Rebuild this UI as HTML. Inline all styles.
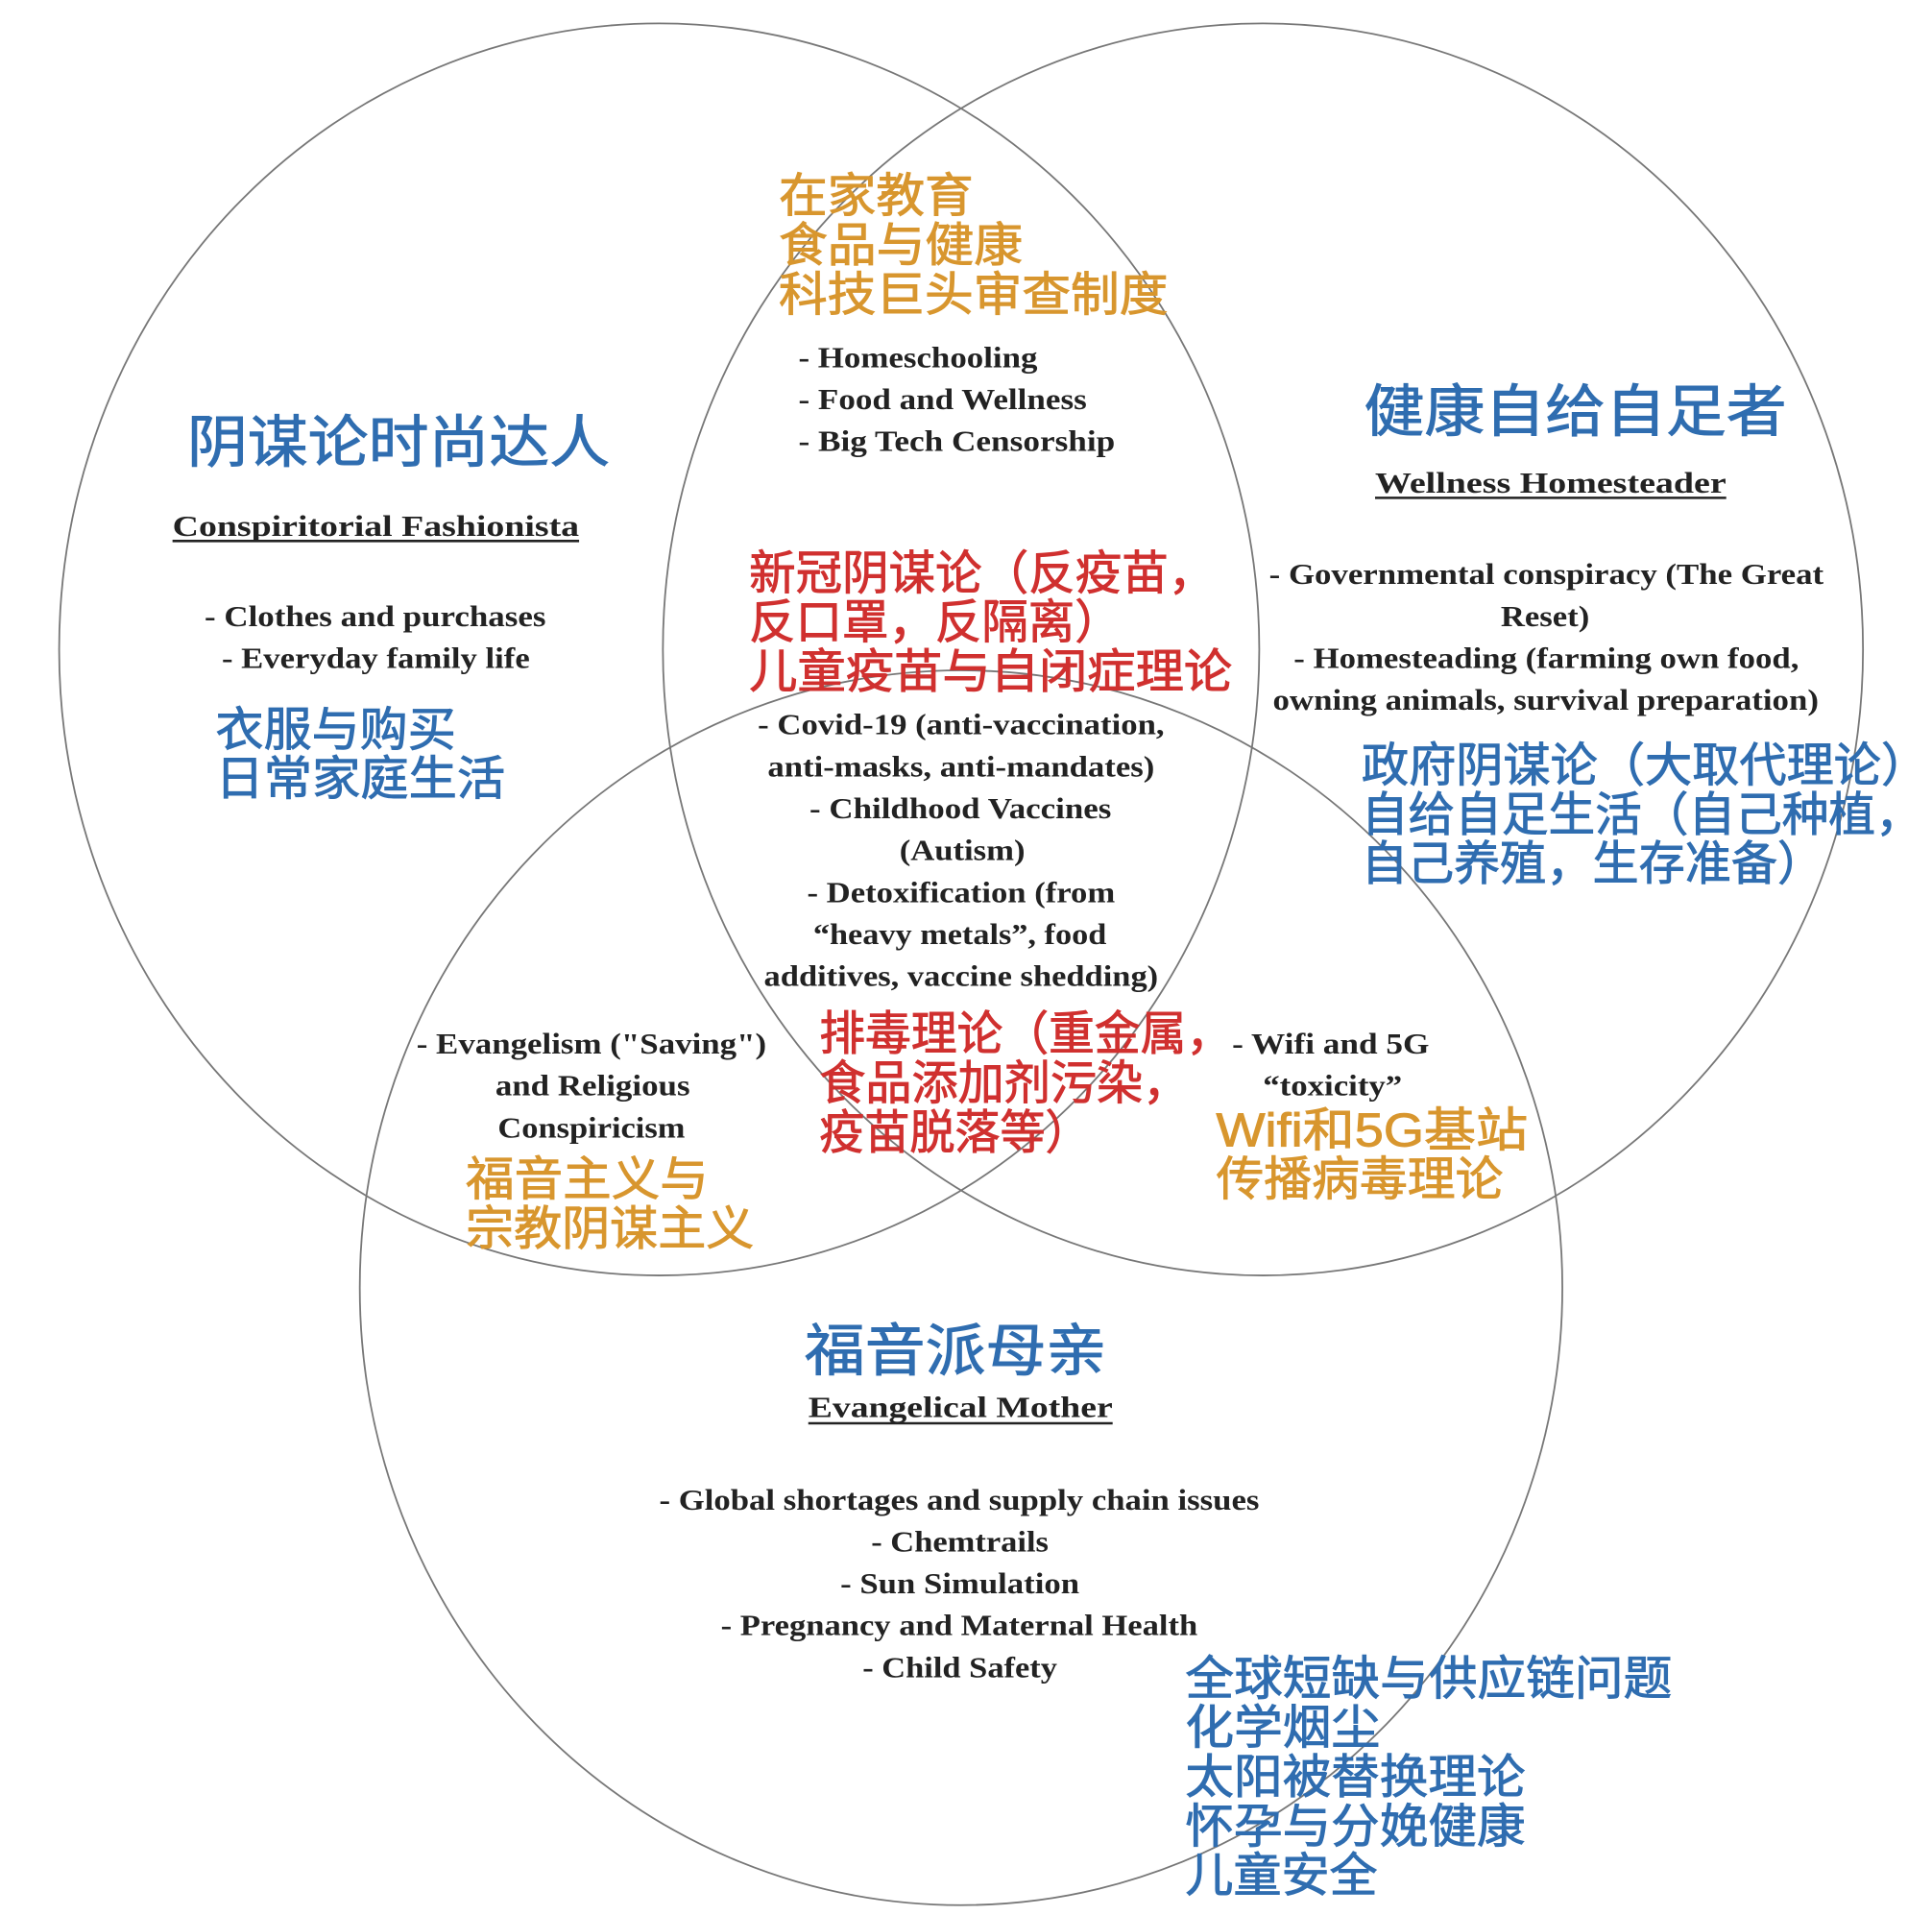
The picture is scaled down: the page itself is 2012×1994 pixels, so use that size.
<!DOCTYPE html>
<html><head><meta charset="utf-8"><style>
html,body{margin:0;padding:0;background:#fff;}
svg{display:block;}
.c{font-family:"Liberation Sans","Noto Sans CJK SC",sans-serif;stroke-width:0.7px;}
.e{font-family:"Liberation Serif",serif;font-weight:bold;font-size:24px;fill:#222;}
.o{fill:#d8962e;stroke:#d8962e;font-size:38px;}
.b{fill:#2f6db0;stroke:#2f6db0;font-size:38px;}
.r{fill:#d0302f;stroke:#d0302f;font-size:38px;}
.t{fill:#2f6db0;stroke:#2f6db0;font-size:46px;}
</style></head><body>
<svg width="2012" height="1994" viewBox="0 0 1568 1554" preserveAspectRatio="none" xmlns="http://www.w3.org/2000/svg">
<g fill="none" stroke="#777" stroke-width="1.4">
<ellipse cx="535" cy="527" rx="487" ry="508"/>
<ellipse cx="1025" cy="527" rx="487" ry="508"/>
<ellipse cx="780" cy="1045" rx="488" ry="501"/>
</g>
<g>
<text class="c o" x="632" y="172" textLength="158" lengthAdjust="spacingAndGlyphs">在家教育</text>
<text class="c o" x="632" y="212" textLength="198" lengthAdjust="spacingAndGlyphs">食品与健康</text>
<text class="c o" x="632" y="252" textLength="316" lengthAdjust="spacingAndGlyphs">科技巨头审查制度</text>
<text class="c t" x="152" y="375" textLength="343" lengthAdjust="spacingAndGlyphs">阴谋论时尚达人</text>
<text class="c b" x="175" y="605" textLength="195" lengthAdjust="spacingAndGlyphs">衣服与购买</text>
<text class="c b" x="175" y="645" textLength="235" lengthAdjust="spacingAndGlyphs">日常家庭生活</text>
<text class="c t" x="1107" y="350" textLength="343" lengthAdjust="spacingAndGlyphs">健康自给自足者</text>
<text class="c b" x="1105" y="634" textLength="460" lengthAdjust="spacingAndGlyphs">政府阴谋论（大取代理论）</text>
<text class="c b" x="1105" y="674" textLength="455" lengthAdjust="spacingAndGlyphs">自给自足生活（自己种植，</text>
<text class="c b" x="1105" y="714" textLength="375" lengthAdjust="spacingAndGlyphs">自己养殖，生存准备）</text>
<text class="c r" x="608" y="478" textLength="378" lengthAdjust="spacingAndGlyphs">新冠阴谋论（反疫苗，</text>
<text class="c r" x="608" y="518" textLength="302" lengthAdjust="spacingAndGlyphs">反口罩，反隔离）</text>
<text class="c r" x="608" y="558" textLength="392" lengthAdjust="spacingAndGlyphs">儿童疫苗与自闭症理论</text>
<text class="c r" x="665" y="852" textLength="335" lengthAdjust="spacingAndGlyphs">排毒理论（重金属，</text>
<text class="c r" x="665" y="892" textLength="300" lengthAdjust="spacingAndGlyphs">食品添加剂污染，</text>
<text class="c r" x="665" y="932" textLength="220" lengthAdjust="spacingAndGlyphs">疫苗脱落等）</text>
<text class="c o" x="987" y="930" textLength="253" lengthAdjust="spacingAndGlyphs">Wifi和5G基站</text>
<text class="c o" x="987" y="970" textLength="233" lengthAdjust="spacingAndGlyphs">传播病毒理论</text>
<text class="c o" x="378" y="970" textLength="197" lengthAdjust="spacingAndGlyphs">福音主义与</text>
<text class="c o" x="378" y="1010" textLength="234" lengthAdjust="spacingAndGlyphs">宗教阴谋主义</text>
<text class="c t" x="653" y="1112" textLength="245" lengthAdjust="spacingAndGlyphs">福音派母亲</text>
<text class="c b" x="962" y="1375" textLength="395" lengthAdjust="spacingAndGlyphs">全球短缺与供应链问题</text>
<text class="c b" x="962" y="1415" textLength="158" lengthAdjust="spacingAndGlyphs">化学烟尘</text>
<text class="c b" x="962" y="1455" textLength="276" lengthAdjust="spacingAndGlyphs">太阳被替换理论</text>
<text class="c b" x="962" y="1495" textLength="276" lengthAdjust="spacingAndGlyphs">怀孕与分娩健康</text>
<text class="c b" x="962" y="1535" textLength="156" lengthAdjust="spacingAndGlyphs">儿童安全</text>
</g>
<g class="e">
<text class="e" x="648" y="298" textLength="194" lengthAdjust="spacingAndGlyphs">- Homeschooling</text>
<text class="e" x="648" y="332" textLength="234" lengthAdjust="spacingAndGlyphs">- Food and Wellness</text>
<text class="e" x="648" y="366" textLength="257" lengthAdjust="spacingAndGlyphs">- Big Tech Censorship</text>
<text class="e" x="140" y="435" textLength="330" lengthAdjust="spacingAndGlyphs">Conspiritorial Fashionista</text>
<line x1="140" y1="439" x2="470" y2="439" stroke="#222" stroke-width="2"/>
<text class="e" x="166" y="508" textLength="277" lengthAdjust="spacingAndGlyphs">- Clothes and purchases</text>
<text class="e" x="180" y="542" textLength="250" lengthAdjust="spacingAndGlyphs">- Everyday family life</text>
<text class="e" x="1116" y="400" textLength="285" lengthAdjust="spacingAndGlyphs">Wellness Homesteader</text>
<line x1="1116" y1="404" x2="1401" y2="404" stroke="#222" stroke-width="2"/>
<text class="e" x="1030" y="474" textLength="450" lengthAdjust="spacingAndGlyphs">- Governmental conspiracy (The Great</text>
<text class="e" x="1218" y="508" textLength="72" lengthAdjust="spacingAndGlyphs">Reset)</text>
<text class="e" x="1050" y="542" textLength="410" lengthAdjust="spacingAndGlyphs">- Homesteading (farming own food,</text>
<text class="e" x="1033" y="576" textLength="443" lengthAdjust="spacingAndGlyphs">owning animals, survival preparation)</text>
<text class="e" x="615" y="596" textLength="330" lengthAdjust="spacingAndGlyphs">- Covid-19 (anti-vaccination,</text>
<text class="e" x="623" y="630" textLength="314" lengthAdjust="spacingAndGlyphs">anti-masks, anti-mandates)</text>
<text class="e" x="657" y="664" textLength="245" lengthAdjust="spacingAndGlyphs">- Childhood Vaccines</text>
<text class="e" x="730" y="698" textLength="102" lengthAdjust="spacingAndGlyphs">(Autism)</text>
<text class="e" x="655" y="732" textLength="250" lengthAdjust="spacingAndGlyphs">- Detoxification (from</text>
<text class="e" x="660" y="766" textLength="238" lengthAdjust="spacingAndGlyphs">“heavy metals”, food</text>
<text class="e" x="620" y="800" textLength="320" lengthAdjust="spacingAndGlyphs">additives, vaccine shedding)</text>
<text class="e" x="1000" y="855" textLength="160" lengthAdjust="spacingAndGlyphs">- Wifi and 5G</text>
<text class="e" x="1025" y="889" textLength="113" lengthAdjust="spacingAndGlyphs">“toxicity”</text>
<text class="e" x="338" y="855" textLength="284" lengthAdjust="spacingAndGlyphs">- Evangelism ("Saving")</text>
<text class="e" x="402" y="889" textLength="158" lengthAdjust="spacingAndGlyphs">and Religious</text>
<text class="e" x="404" y="923" textLength="152" lengthAdjust="spacingAndGlyphs">Conspiricism</text>
<text class="e" x="656" y="1150" textLength="247" lengthAdjust="spacingAndGlyphs">Evangelical Mother</text>
<line x1="656" y1="1155" x2="903" y2="1155" stroke="#222" stroke-width="2"/>
<text class="e" x="535" y="1225" textLength="487" lengthAdjust="spacingAndGlyphs">- Global shortages and supply chain issues</text>
<text class="e" x="707" y="1259" textLength="144" lengthAdjust="spacingAndGlyphs">- Chemtrails</text>
<text class="e" x="682" y="1293" textLength="194" lengthAdjust="spacingAndGlyphs">- Sun Simulation</text>
<text class="e" x="585" y="1327" textLength="387" lengthAdjust="spacingAndGlyphs">- Pregnancy and Maternal Health</text>
<text class="e" x="700" y="1361" textLength="158" lengthAdjust="spacingAndGlyphs">- Child Safety</text>
</g>
</svg>
</body></html>
